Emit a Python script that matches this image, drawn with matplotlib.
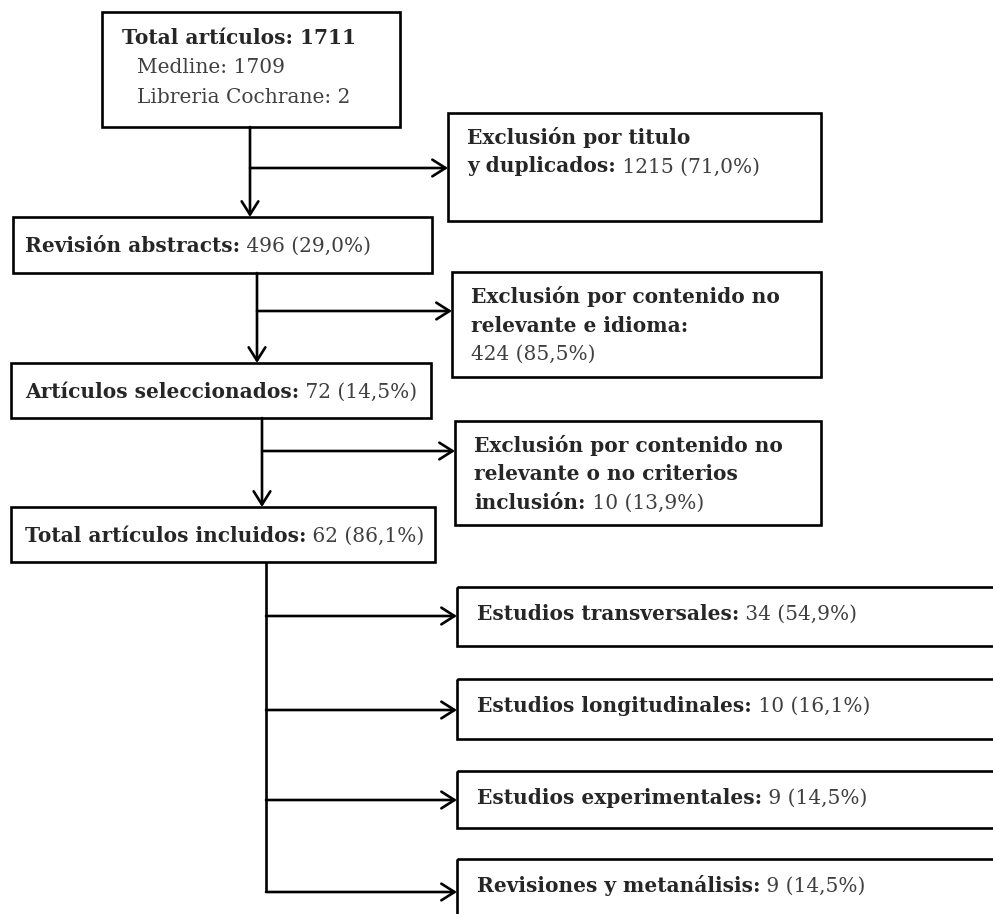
import matplotlib
matplotlib.use("Agg")
import matplotlib.pyplot as plt
from matplotlib.patches import Rectangle

# --- data ---
total_label = "Total artículos"
total_n = 1711
source_names = ["Medline", "Libreria Cochrane"]
source_n = [1709, 2]

step_labels = ["Revisión abstracts", "Artículos seleccionados", "Total artículos incluidos"]
step_n = [496, 72, 62]
step_pct = ["29,0%", "14,5%", "86,1%"]

excl_lines = [
    ["Exclusión por titulo", "y duplicados:"],
    ["Exclusión por contenido no", "relevante e idioma:"],
    ["Exclusión por contenido no", "relevante o no criterios", "inclusión:"],
]
excl_n = [1215, 424, 10]
excl_pct = ["71,0%", "85,5%", "13,9%"]
excl_num_newline = [False, True, False]

study_types = ["Estudios transversales", "Estudios longitudinales",
               "Estudios experimentales", "Revisiones y metanálisis"]
study_n = [34, 10, 9, 9]
study_pct = ["54,9%", "16,1%", "14,5%", "14,5%"]

# --- layout in pixels (x0, y0, x1, y1) ---
top_box = (102, 12, 400, 127)
step_boxes = [(13, 217, 432, 273), (11, 363, 431, 418), (11, 507, 435, 562)]
excl_boxes = [(448, 113, 821, 221), (452, 272, 821, 377), (455, 421, 821, 525)]
study_boxes = [(457, 587, 1010, 646), (457, 679, 1010, 739),
               (457, 771, 1010, 828), (457, 859, 1010, 930)]
trunk_x = [250, 257, 262]
branch_y = [168, 311, 451]
study_trunk_x = 266
study_arrow_y = [616, 710, 800, 892]

FS = 14.5
LW = 1.9
BOLD_C = "#262626"
REG_C = "#404040"
FONT = "DejaVu Serif"

fig = plt.figure(figsize=(9.93, 9.14), dpi=100)
ax = fig.add_axes([0, 0, 1, 1])
ax.set_xlim(0, 993)
ax.set_ylim(914, 0)
ax.axis("off")
renderer = fig.canvas.get_renderer()


def box(b):
    x0, y0, x1, y1 = b
    ax.add_patch(Rectangle((x0, y0), x1 - x0, y1 - y0, fill=False,
                           lw=LW, ec="black"))


def write(x, y, parts):
    # parts: list of (text, bold); drawn one after another on a baseline
    for s, bold in parts:
        t = ax.text(x, y, s, fontsize=FS, family=FONT, va="baseline", ha="left",
                    fontweight="bold" if bold else "normal",
                    color=BOLD_C if bold else REG_C)
        bb = t.get_window_extent(renderer)
        x = ax.transData.inverted().transform((bb.x1, bb.y0))[0]


def arrow(x0, y0, x1, y1):
    ax.annotate("", xy=(x1, y1), xytext=(x0, y0),
                arrowprops=dict(arrowstyle="->,head_length=0.95,head_width=0.6",
                                lw=LW, color="black", shrinkA=0, shrinkB=0))


# boxes
box(top_box)
for b in step_boxes + excl_boxes + study_boxes:
    box(b)

# top box text
write(122, 44, [(f"{total_label}: {total_n}", True)])
for i, (name, n) in enumerate(zip(source_names, source_n)):
    write(137, 73 + 30 * i, [(f"{name}: {n}", False)])

# step boxes text
for b, lab, n, p in zip(step_boxes, step_labels, step_n, step_pct):
    yc = (b[1] + b[3]) / 2
    write(25, yc + 7, [(lab + ":", True), (f" {n} ({p})", False)])

# exclusion boxes text
for b, lines, n, p, nl in zip(excl_boxes, excl_lines, excl_n, excl_pct, excl_num_newline):
    y = b[1] + 31
    for j, line in enumerate(lines):
        parts = [(line, True)]
        if j == len(lines) - 1 and not nl:
            parts.append((f" {n} ({p})", False))
        write(b[0] + 19, y, parts)
        y += 28.5
    if nl:
        write(b[0] + 19, y, [(f"{n} ({p})", False)])

# study boxes text
for b, lab, n, p in zip(study_boxes, study_types, study_n, study_pct):
    write(b[0] + 20, b[1] + 33, [(lab + ":", True), (f" {n} ({p})", False)])

# connectors: main trunk with side exits
prev_bottom = [top_box[3]] + [sb[3] for sb in step_boxes[:-1]]
for x, yb, b_next, by, eb in zip(trunk_x, prev_bottom, step_boxes, branch_y, excl_boxes):
    arrow(x, yb, x, b_next[1])
    arrow(x, by, eb[0], by)

last = step_boxes[-1]
ax.plot([study_trunk_x, study_trunk_x], [last[3], study_arrow_y[-1]],
        color="black", lw=LW, solid_capstyle="butt")
for y, sb in zip(study_arrow_y, study_boxes):
    arrow(study_trunk_x, y, sb[0], y)

fig.savefig("out.png", dpi=100, facecolor="white")
